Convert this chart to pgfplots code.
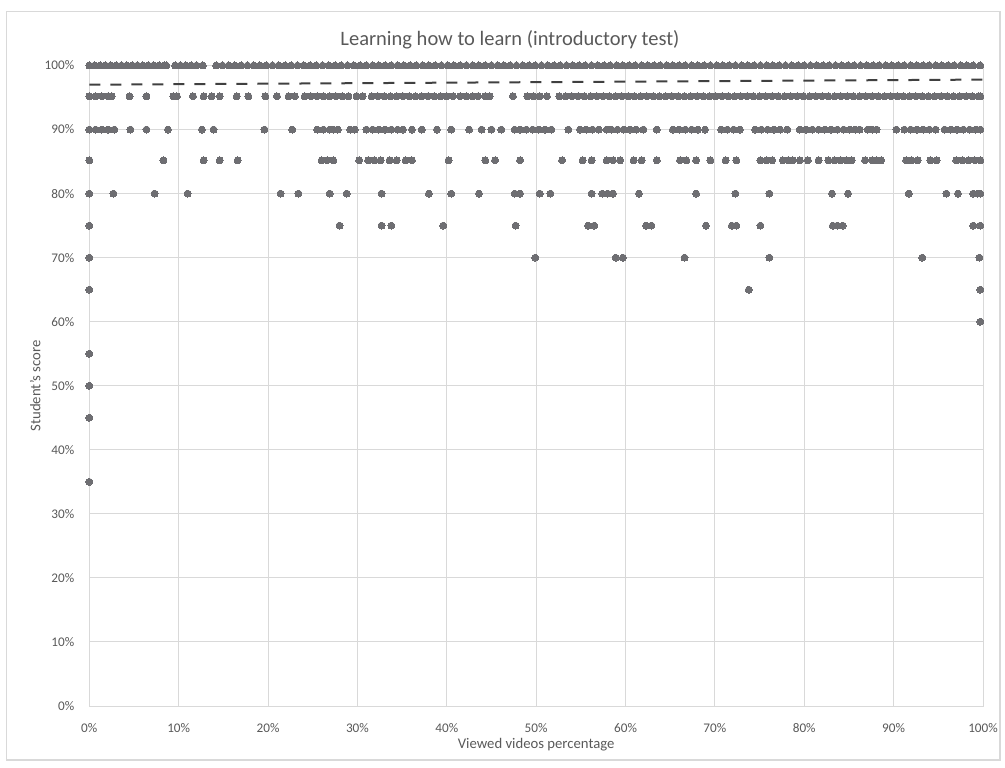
\documentclass[border=0pt]{standalone}
\usepackage{pgfplots}
\pgfplotsset{compat=1.18}
\usepackage{fontspec}
\setmainfont{Carlito}
\definecolor{txt}{HTML}{595959}
\definecolor{grd}{HTML}{D9D9D9}
\definecolor{mk}{HTML}{6E6E72}
\definecolor{tr}{HTML}{404040}
\begin{document}
\begin{tikzpicture}
\begin{axis}[
  scale only axis, width=446.85pt, height=320.25pt,
  xmin=0, xmax=100, ymin=0, ymax=100,
  clip=false,
  xtick={0,10,20,30,40,50,60,70,80,90,100},
  ytick={0,10,20,30,40,50,60,70,80,90,100},
  xticklabels={0\%,10\%,20\%,30\%,40\%,50\%,60\%,70\%,80\%,90\%,100\%},
  yticklabels={0\%,10\%,20\%,30\%,40\%,50\%,60\%,70\%,80\%,90\%,100\%},
  grid=major, major grid style={grd, line width=0.5pt},
  axis line style={grd, line width=0.5pt},
  major tick length=0pt, tick style={draw=none},
  ticklabel style={font=\fontsize{6.6}{7.5}\selectfont, text=txt},
  yticklabel style={xshift=-4pt},
  xticklabel style={yshift=-5.3pt},
  title={Learning how to learn (introductory test)},
  title style={font=\fontsize{10.25}{12}\selectfont, text=txt, at={(axis description cs:0.4707,1.0398)}, anchor=center, yshift=-6pt},
  xlabel={Viewed videos percentage},
  ylabel={Student's score},
  label style={font=\fontsize{7.35}{9}\selectfont, text=txt},
  xlabel style={at={(axis description cs:0.5,-0.0609)}, anchor=center},
  ylabel style={at={(axis description cs:-0.0604,0.5)}, anchor=center},
]
\addplot[only marks, mark=*, mark size=1.75pt, mark options={fill=mk, draw=mk, line width=0pt}] coordinates {
% 100%
(0,100)(0.6,100)(1.2,100)(1.8,100)(2.4,100)(3.0,100)(3.6,100)(4.2,100)(4.8,100)(5.4,100)(6.0,100)(6.6,100)(7.2,100)(7.8,100)(8.4,100)(8.6,100)
(9.6,100)(10.2,100)(10.8,100)(11.4,100)(12.0,100)(12.7,100)
(14.2,100)(14.9,100)(15.6,100)(16.3,100)(17.0,100)(17.7,100)(18.4,100)(19.1,100)(19.8,100)(20.5,100)(21.2,100)(21.9,100)(22.6,100)(23.3,100)(24.0,100)(24.7,100)(25.4,100)(26.1,100)(26.8,100)(27.5,100)(28.2,100)(28.9,100)(29.6,100)(30.3,100)(31.0,100)(31.7,100)(32.4,100)(33.1,100)(33.8,100)(34.5,100)(35.2,100)(35.9,100)(36.6,100)(37.3,100)(38.0,100)(38.7,100)(39.4,100)(40.1,100)(40.8,100)(41.5,100)(42.2,100)(42.9,100)(43.6,100)(44.3,100)(45.0,100)(45.7,100)(46.4,100)(47.1,100)(47.8,100)(48.5,100)(49.2,100)(49.9,100)(50.6,100)(51.3,100)(52.0,100)(52.7,100)(53.4,100)(54.1,100)(54.8,100)(55.5,100)(56.2,100)(56.9,100)(57.6,100)(58.3,100)(59.0,100)(59.7,100)(60.4,100)(61.1,100)(61.8,100)(62.5,100)(63.2,100)(63.9,100)(64.6,100)(65.3,100)(66.0,100)(66.7,100)(67.4,100)(68.1,100)(68.8,100)(69.5,100)(70.2,100)(70.9,100)(71.6,100)(72.3,100)(73.0,100)(73.7,100)(74.4,100)(75.1,100)(75.8,100)(76.5,100)(77.2,100)(77.9,100)(78.6,100)(79.3,100)(80.0,100)(80.7,100)(81.4,100)(82.1,100)(82.8,100)(83.5,100)(84.2,100)(84.9,100)(85.6,100)(86.3,100)(87.0,100)(87.7,100)(88.4,100)(89.1,100)(89.8,100)(90.5,100)(91.2,100)(91.9,100)(92.6,100)(93.3,100)(94.0,100)(94.7,100)(95.4,100)(96.1,100)(96.8,100)(97.5,100)(98.2,100)(98.9,100)(99.7,100)
% 95%
(0,95.2)(0.7,95.2)(1.4,95.2)(2.1,95.2)(2.5,95.2)(4.5,95.2)(6.4,95.2)(9.4,95.2)(9.8,95.2)(11.6,95.2)(12.8,95.2)(13.7,95.2)(14.6,95.2)(16.5,95.2)(17.8,95.2)(19.7,95.2)(21.0,95.2)(22.3,95.2)(23.0,95.2)
(24.1,95.2)(24.8,95.2)(25.5,95.2)(26.2,95.2)(26.9,95.2)(27.6,95.2)(28.3,95.2)(29.0,95.2)(29.9,95.2)(30.6,95.2)
(31.6,95.2)(32.3,95.2)(33.0,95.2)(33.7,95.2)(34.4,95.2)(35.1,95.2)(35.8,95.2)(36.5,95.2)(37.2,95.2)(37.9,95.2)(38.6,95.2)(39.3,95.2)(40.0,95.2)(40.7,95.2)(41.5,95.2)
(42.2,95.2)(42.9,95.2)(43.5,95.2)(44.3,95.2)(44.8,95.2)(47.4,95.2)(49.0,95.2)(49.7,95.2)(50.4,95.2)(51.2,95.2)
(52.6,95.2)(53.3,95.2)(54.0,95.2)(54.7,95.2)(55.4,95.2)(56.1,95.2)(56.8,95.2)(57.5,95.2)(58.2,95.2)(58.9,95.2)(59.6,95.2)(60.3,95.2)(61.0,95.2)(61.7,95.2)(62.4,95.2)(63.1,95.2)(63.8,95.2)(64.5,95.2)(65.2,95.2)(65.9,95.2)(66.6,95.2)(67.3,95.2)(68.0,95.2)(68.7,95.2)(69.4,95.2)(70.1,95.2)(70.8,95.2)(71.5,95.2)(72.2,95.2)(72.9,95.2)(73.6,95.2)(74.3,95.2)(75.0,95.2)(75.7,95.2)(76.4,95.2)(77.1,95.2)(77.8,95.2)(78.5,95.2)(79.2,95.2)(79.9,95.2)(80.6,95.2)(81.3,95.2)(82.0,95.2)(82.7,95.2)(83.4,95.2)(84.1,95.2)(84.8,95.2)(85.5,95.2)(86.2,95.2)(86.9,95.2)(87.6,95.2)(88.3,95.2)(89.0,95.2)(89.7,95.2)(90.4,95.2)(91.1,95.2)(91.8,95.2)(92.5,95.2)(93.2,95.2)(93.9,95.2)(94.6,95.2)(95.3,95.2)(96.0,95.2)(96.7,95.2)(97.4,95.2)(98.1,95.2)(98.8,95.2)(99.5,95.2)(99.7,95.2)
% 90%
(0,90)(0.7,90)(1.4,90)(2.1,90)(2.8,90)(4.6,90)(6.4,90)(8.8,90)(12.6,90)(13.9,90)(19.6,90)(22.7,90)
(25.5,90)(26.2,90)(26.9,90)(27.3,90)(27.8,90)(29.2,90)(29.7,90)
(31.0,90)(31.7,90)(32.4,90)(33.1,90)(33.8,90)(34.5,90)(35.1,90)(36.1,90)(37.2,90)(38.9,90)(40.5,90)(42.5,90)(43.9,90)(45.0,90)(46.1,90)(47.6,90)(48.2,90)
(48.9,90)(49.6,90)(50.3,90)(51.0,90)(51.7,90)(53.6,90)(54.9,90)(55.6,90)(56.3,90)(57.0,90)(57.9,90)
(58.4,90)(59.1,90)(59.8,90)(60.5,90)(61.2,90)(62.0,90)(63.5,90)(65.3,90)(66.0,90)(66.7,90)(67.4,90)(68.1,90)(68.9,90)
(70.7,90)(71.4,90)(72.1,90)(72.8,90)(74.5,90)(75.2,90)(75.9,90)(76.6,90)(77.3,90)(78.1,90)
(79.5,90)(80.2,90)(80.9,90)(81.6,90)(82.3,90)(83.0,90)(83.7,90)(84.4,90)(85.1,90)(85.7,90)(86.2,90)(87.1,90)(87.6,90)(88.1,90)
(90.3,90)(91.2,90)(91.9,90)(92.6,90)(93.3,90)(94.0,90)(94.7,90)(95.7,90)(96.4,90)(97.1,90)(97.8,90)(98.5,90)(99.2,90)(99.7,90)
% 85%
(0,85.2)(8.3,85.2)(12.8,85.2)(14.6,85.2)(16.6,85.2)(26.0,85.2)(26.6,85.2)(27.3,85.2)(30.2,85.2)(31.2,85.2)(31.9,85.2)(32.6,85.2)(33.6,85.2)(34.4,85.2)(35.4,85.2)(36.1,85.2)
(40.2,85.2)(44.3,85.2)(45.4,85.2)(48.2,85.2)(52.9,85.2)(55.2,85.2)(56.2,85.2)(57.9,85.2)(58.6,85.2)(59.4,85.2)(60.9,85.2)(61.8,85.2)(63.5,85.2)(66.1,85.2)(66.8,85.2)(67.9,85.2)(69.5,85.2)
(71.2,85.2)(72.4,85.2)(75.1,85.2)(75.8,85.2)(76.4,85.2)(77.6,85.2)(78.2,85.2)(78.7,85.2)(79.5,85.2)(80.4,85.2)(81.6,85.2)(82.7,85.2)(83.4,85.2)(84.1,85.2)(84.7,85.2)(85.3,85.2)
(86.8,85.2)(87.6,85.2)(88.1,85.2)(88.6,85.2)(91.4,85.2)(92.0,85.2)(92.7,85.2)(94.1,85.2)(94.8,85.2)(97.0,85.2)(97.7,85.2)(98.4,85.2)(99.1,85.2)(99.7,85.2)
% 80%
(0,80)(2.7,80)(7.3,80)(11.0,80)(21.4,80)(23.4,80)(26.9,80)(28.8,80)(32.7,80)(38.0,80)(40.5,80)(43.6,80)(47.6,80)(48.2,80)(50.4,80)(51.6,80)
(56.2,80)(57.4,80)(58.0,80)(58.6,80)(61.5,80)(67.9,80)(72.3,80)(76.1,80)(83.1,80)(84.9,80)(91.7,80)(95.9,80)(97.2,80)(98.9,80)(99.4,80)(99.7,80)
% 75%
(0,75)(28.0,75)(32.7,75)(33.8,75)(39.6,75)(47.7,75)(55.8,75)(56.5,75)(62.3,75)(62.9,75)(69.0,75)(71.9,75)(72.4,75)(75.1,75)(83.2,75)(83.7,75)(84.3,75)(98.9,75)(99.7,75)
% 70%
(0,70)(49.9,70)(58.9,70)(59.7,70)(66.6,70)(76.1,70)(93.2,70)(99.6,70)
% 65% and below
(0,65)(73.8,65)(99.7,65)(99.7,60)(0,55)(0,50)(0,45)(0,35)
};
\addplot[tr, line width=1pt, dash pattern=on 5.5pt off 5pt] coordinates {(0,97.0)(100,97.8)};
\coordinate (O) at (rel axis cs:0,0);
\end{axis}
\draw[grd, line width=0.6pt] ([shift={(-41.3pt,-27pt)}]O) rectangle ([shift={(455.35pt,347.15pt)}]O);
\path ([shift={(-44.65pt,-30.5pt)}]O) rectangle ([shift={(457.85pt,353pt)}]O);
\end{tikzpicture}
\end{document}
